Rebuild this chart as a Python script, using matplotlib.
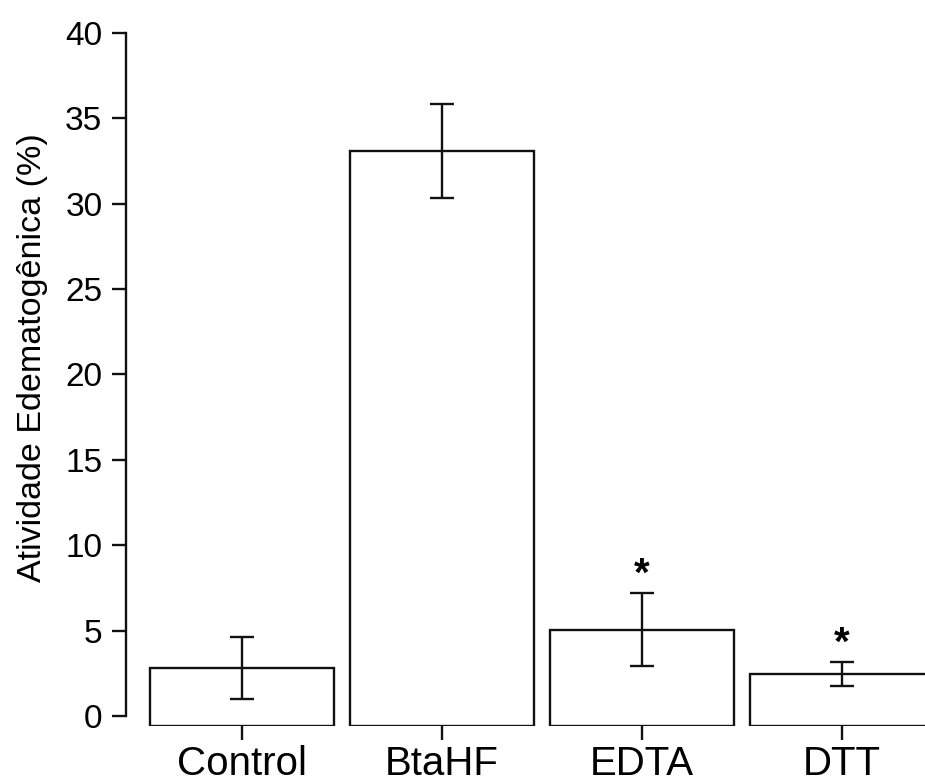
import matplotlib
matplotlib.use('Agg')
import matplotlib.pyplot as plt
import numpy as np

# Data
groups = ['Control', 'BtaHF', 'EDTA', 'DTT']
means = [2.8, 33.1, 5.05, 2.45]
errors = [1.8, 2.75, 2.15, 0.7]
significant = [False, False, True, True]

# Constants
base = -0.57
bar_width = 0.92
lw = 1.7

plt.rcParams['font.family'] = ['Liberation Sans', 'DejaVu Sans']


def draw_bars(ax):
    x = np.arange(len(groups))
    heights = np.array(means) - base
    ax.bar(x, heights, bar_width, bottom=base, color='white',
           edgecolor='#111111', linewidth=lw)
    ax.errorbar(x, means, yerr=errors, fmt='none', ecolor='#111111',
                elinewidth=lw, capsize=8.5, capthick=lw)
    for xi, m, e, sig in zip(x, means, errors, significant):
        if sig:
            ax.text(xi, m + e + 0.45, '*', ha='center', va='baseline',
                    fontsize=29, fontweight='bold')
    ax.set_xticks(x)
    ax.set_xticklabels(groups, fontsize=29)


def main():
    fig = plt.figure(figsize=(9.25, 7.83), dpi=100)
    ax = fig.add_axes([126 / 925, 1 - 725.7 / 783, 1 - 126 / 925, 692.7 / 783])

    draw_bars(ax)

    ax.set_xlim(-0.58, 3.415)
    ax.set_ylim(base, 40)
    ax.set_yticks(np.arange(0, 41, 5))
    ax.tick_params(axis='y', labelsize=24, length=10, width=lw,
                   direction='out', pad=7, color='#111111')
    ax.tick_params(axis='x', length=10, width=lw, direction='out', pad=4,
                   color='#111111')

    for side in ['top', 'right', 'bottom']:
        ax.spines[side].set_visible(False)
    ax.spines['left'].set_linewidth(lw)
    ax.spines['left'].set_color('#111111')
    ax.spines['left'].set_bounds(0, 40)

    ax.set_ylabel('Atividade Edematogênica (%)', fontsize=24.5)
    ax.yaxis.set_label_coords(-0.098, 0.5316)

    fig.savefig('out.png', dpi=100)


if __name__ == '__main__':
    main()
